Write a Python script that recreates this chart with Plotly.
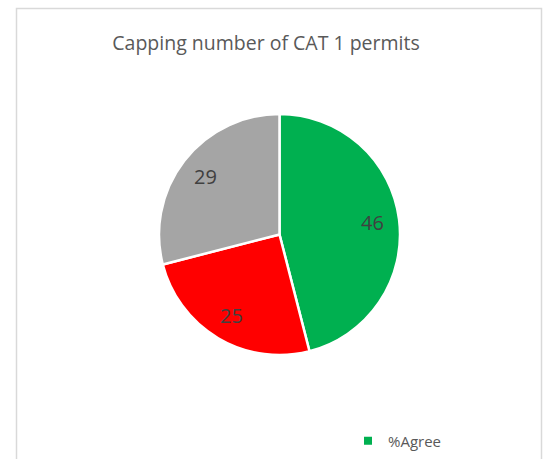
import math
import plotly.graph_objects as go

title = "Capping number of CAT 1 permits"
labels = ["%Agree", "%Disagree", "%Neutral"]
values = [46, 25, 29]
colors = ["#00B050", "#FF0000", "#A5A5A5"]

W, H = 546, 459
cx, cy, r = 279.5, 234.5, 120.5
label_frac = 0.78

fig = go.Figure()
fig.add_trace(go.Pie(
    labels=labels, values=values, sort=False, direction="clockwise", rotation=0,
    marker=dict(colors=colors, line=dict(color="white", width=2.5)),
    textinfo="none",
    showlegend=False, hoverinfo="label+value",
    domain=dict(x=[(cx - r) / W, (cx + r) / W], y=[(H - cy - r) / H, (H - cy + r) / H]),
))
fig.add_trace(go.Scatter(
    x=[None], y=[None], mode="markers", name=labels[0],
    marker=dict(symbol="square", size=8, color=colors[0]),
    showlegend=True,
))

# data labels placed at slice mid-angles
total = sum(values)
annotations = []
cum = 0
for v in values:
    mid = (cum + v / 2) / total * 2 * math.pi
    cum += v
    dx = math.sin(mid) * r * label_frac
    dy = math.cos(mid) * r * label_frac
    annotations.append(dict(
        x=(cx + dx) / W, y=(H - cy + dy) / H, xref="paper", yref="paper",
        text=str(v), showarrow=False, xanchor="center", yanchor="middle",
        font=dict(family="Open Sans", size=20, color="#404040"),
    ))

fig.update_layout(
    width=W, height=H,
    margin=dict(l=0, r=0, t=0, b=0, autoexpand=False),
    paper_bgcolor="white", plot_bgcolor="rgba(0,0,0,0)",
    xaxis=dict(visible=False), yaxis=dict(visible=False),
    title=dict(text=title, x=266 / W, xanchor="center", y=1 - 43 / H, yanchor="middle",
               font=dict(family="Open Sans", size=19.5, color="#595959")),
    legend=dict(x=348 / W, y=1 - 441 / H, xanchor="left", yanchor="middle",
                font=dict(family="Open Sans", size=15, color="#595959"),
                itemwidth=30, bgcolor="rgba(0,0,0,0)"),
    annotations=annotations,
    shapes=[dict(type="rect", xref="paper", yref="paper",
                 x0=16.5 / W, x1=541.5 / W, y0=-0.2, y1=1 - 8.5 / H,
                 line=dict(color="#D9D9D9", width=1.5), fillcolor="rgba(0,0,0,0)", layer="above")],
)
fig.write_html("out.html", config={"displayModeBar": False},
               post_script="document.body.style.margin='0';document.body.style.overflow='hidden';")
